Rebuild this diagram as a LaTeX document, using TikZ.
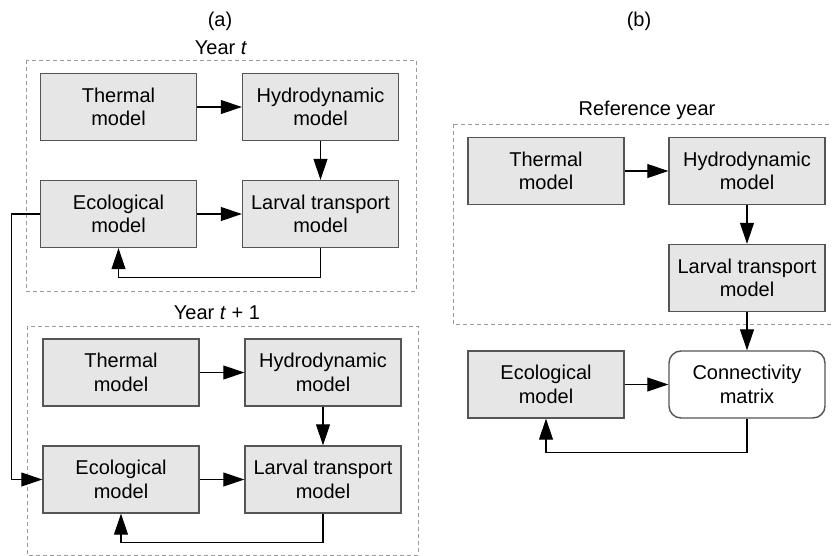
\documentclass[tikz,border=0pt]{standalone}
\usepackage{fontspec}
\setmainfont{Liberation Sans}
\usetikzlibrary{arrows.meta}
\definecolor{boxgray}{HTML}{E6E6E6}
\definecolor{edgegray}{HTML}{555555}
\definecolor{framegray}{HTML}{9A9A9A}
\tikzset{
  modelbox/.style={draw=edgegray, fill=boxgray, line width=1.4pt,
    minimum width=156pt, minimum height=67pt, inner sep=0.5pt, align=center,
    font=\fontsize{20}{23.5}\selectfont},
  matrixbox/.style={modelbox, fill=white, rounded corners=12pt},
  frame/.style={draw=framegray, line width=0.9pt, dash pattern=on 4pt off 3pt},
  flow/.style={draw=black, line width=1.1pt,
    -{Triangle[length=21pt, width=14pt]}},
  caption/.style={font=\fontsize{20}{24}\selectfont}
}
\begin{document}
\begin{tikzpicture}[x=1pt, y=-1pt]
    \useasboundingbox (0,0) rectangle (832,556);
    \clip (0,0) rectangle (832,556);

    % Panel (a): year t
    \node[caption] (capA) at (220,21) {(a)};
    \node[caption] (yrA) at (221,48) {Year \textit{t}};
    \draw[frame] (26,60) rectangle (416,291);
    \node[modelbox] (thA) at (118.5,107) {Thermal\\model};
    \node[modelbox] (hyA) at (320.5,107) {Hydrodynamic\\model};
    \node[modelbox] (ecA) at (118.5,214) {Ecological\\model};
    \node[modelbox] (laA) at (320.5,214) {Larval transport\\model};
    \draw[flow] (thA) -- (hyA);
    \draw[flow] (hyA) -- (laA);
    \draw[flow] (ecA) -- (laA);
    \draw[flow] (laA.south) -- ++(0,29) -| (ecA.south);

    % Panel (a): year t + 1
    \node[caption] (yrB) at (217,313) {Year \textit{t} + 1};
    \draw[frame] (27,326) rectangle (418,555);
    \node[modelbox] (thB) at (121,372.5) {Thermal\\model};
    \node[modelbox] (hyB) at (323,372.5) {Hydrodynamic\\model};
    \node[modelbox] (ecB) at (121,479.5) {Ecological\\model};
    \node[modelbox] (laB) at (323,479.5) {Larval transport\\model};
    \draw[flow] (thB) -- (hyB);
    \draw[flow] (hyB) -- (laB);
    \draw[flow] (ecB) -- (laB);
    \draw[flow] (laB.south) -- ++(0,29) -| (ecB.south);

    % Link between the two years
    \draw[flow] (ecA.west) -- ++(-28,0) |- (ecB.west);

    % Panel (b): reference year
    \node[caption] (capB) at (639,21) {(b)};
    \node[caption] (yrR) at (647,110) {Reference year};
    \draw[frame] (453,124) rectangle (840,324);
    \node[modelbox] (thR) at (546,171) {Thermal\\model};
    \node[modelbox] (hyR) at (747,171) {Hydrodynamic\\model};
    \node[modelbox] (laR) at (747,278) {Larval transport\\model};
    \draw[flow] (thR) -- (hyR);
    \draw[flow] (hyR) -- (laR);

    % Panel (b): connectivity
    \node[modelbox] (ecR) at (546,384.5) {Ecological\\model};
    \node[matrixbox] (cmR) at (747,384.5) {Connectivity\\matrix};
    \draw[flow] (laR) -- (cmR);
    \draw[flow] (ecR) -- (cmR);
    \draw[flow] (cmR.south) -- ++(0,34) -| (ecR.south);
\end{tikzpicture}
\end{document}
